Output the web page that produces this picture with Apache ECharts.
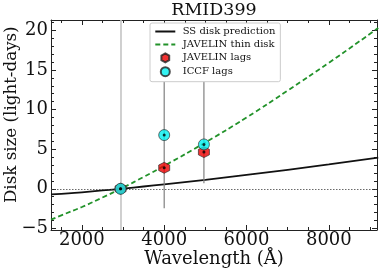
<!DOCTYPE html>
<html><head><meta charset="utf-8">
<script src="https://cdn.jsdelivr.net/npm/echarts@6/dist/echarts.min.js"></script>
<style>html,body{margin:0;padding:0;background:#fff}#c{width:381px;height:273px}</style>
</head><body><div id="c"></div>
<script>
// ---- data ----
var wave = [1250, 1500, 2000, 2500, 3000, 3500, 4000, 5000, 6000, 7000, 8000, 9200];
var ssDisk = [-0.70, -0.65, -0.44, -0.21, 0.03, 0.29, 0.56, 1.13, 1.75, 2.40, 3.08, 3.93];
var javThin = [-3.9, -3.35, -2.3, -1.1, 0.15, 1.5, 2.9, 5.85, 9.0, 12.4, 15.9, 20.3];
var lagWave = [2940, 4000, 4965];
var javLag = [0, 2.65, 4.63];
var iccfLag = [0, 6.78, 5.6];
var errWave = [4000, 4965];
var errLo = [-2.45, 0.7];
var errHi = [15, 15];
var refWave = 2940;
var xMajor = [2000, 4000, 6000, 8000];
var xMinor = [1500, 2500, 3000, 3500, 4500, 5000, 5500, 6500, 7000, 7500, 8500, 9000];
var yMajor = [-5, 0, 5, 10, 15, 20];
var yMinor = [-4, -3, -2, -1, 1, 2, 3, 4, 6, 7, 8, 9, 11, 12, 13, 14, 16, 17, 18, 19, 21];
var xMin = 1250, xMax = 9170, yMin = -5.2, yMax = 21.3;

var FONT = 'DejaVu Serif';
function zip(a, b) { return a.map(function (v, i) { return [v, b[i]]; }); }
function fmt(v) { return v < 0 ? '\u2212' + Math.abs(v) : String(v); }

function xa(pos, vals, len, lab) {
  return {
    type: 'value', min: xMin, max: xMax, position: pos,
    axisLine: { show: len > 4, onZero: false, lineStyle: { color: '#222', width: 1 } },
    axisTick: { show: true, inside: true, length: len, customValues: vals, lineStyle: { color: '#222', width: 1 } },
    axisLabel: lab ? { customValues: vals, fontFamily: FONT, fontSize: 18, color: '#111', margin: 1.5, formatter: function (v) { return String(v); } } : { show: false },
    splitLine: { show: false }
  };
}
function ya(pos, vals, len, lab) {
  return {
    type: 'value', min: yMin, max: yMax, position: pos,
    axisLine: { show: len > 4, onZero: false, lineStyle: { color: '#222', width: 1 } },
    axisTick: { show: true, inside: true, length: len, customValues: vals, lineStyle: { color: '#222', width: 1 } },
    axisLabel: lab ? { customValues: vals, fontFamily: FONT, fontSize: 18, color: '#111', margin: 3, formatter: fmt } : { show: false },
    splitLine: { show: false }
  };
}

var hexPath = 'path://M0,-1L0.866,-0.5L0.866,0.5L0,1L-0.866,0.5L-0.866,-0.5Z';

var series = [
  {
    name: 'SS disk prediction', type: 'line', data: zip(wave, ssDisk), smooth: true,
    symbol: 'none', lineStyle: { color: '#111', width: 1.8 }, itemStyle: { color: '#111' }, z: 3,
    markLine: {
      silent: true, symbol: 'none', label: { show: false },
      data: [
        { xAxis: refWave, lineStyle: { color: '#c4c4c4', width: 1.6, type: 'solid' } },
        { yAxis: 0, lineStyle: { color: '#444', width: 0.8, type: [1.5, 1.5] } }
      ]
    }
  },
  {
    name: 'JAVELIN thin disk', type: 'line', data: zip(wave, javThin), smooth: true,
    symbol: 'none', lineStyle: { color: '#22922a', width: 1.8, type: [5, 3] }, itemStyle: { color: '#22922a' }, z: 4
  }
];
errWave.forEach(function (w, i) {
  series.push({
    type: 'line', data: [[w, errLo[i]], [w, errHi[i]]], symbol: 'none', silent: true,
    lineStyle: { color: '#808080', width: 1.2 }, z: 5
  });
});
series.push({
  name: 'JAVELIN lags', type: 'scatter', data: zip(lagWave, javLag), symbol: hexPath, symbolSize: 11,
  itemStyle: { color: '#ee0000', borderColor: '#222', borderWidth: 0.8 }, z: 6
});
series.push({
  name: 'ICCF lags', type: 'scatter', data: zip(lagWave, iccfLag), symbol: 'circle', symbolSize: 11,
  itemStyle: { color: '#00f0f0', borderColor: '#222', borderWidth: 0.8 }, z: 7
});
series.push({
  type: 'scatter', data: zip(lagWave, javLag).concat(zip(lagWave, iccfLag)), symbol: 'circle', symbolSize: 3,
  itemStyle: { color: '#000' }, silent: true, z: 8
});

var chart = echarts.init(document.getElementById('c'), null, { renderer: 'canvas' });
chart.setOption({
  animation: false,
  backgroundColor: '#fff',
  grid: { left: 51, top: 20, width: 326, height: 210, containLabel: false },
  xAxis: [xa('bottom', xMajor, 5, true), xa('bottom', xMinor, 3, false), xa('top', xMajor, 5, false), xa('top', xMinor, 3, false)],
  yAxis: [ya('left', yMajor, 5, true), ya('left', yMinor, 3, false), ya('right', yMajor, 5, false), ya('right', yMinor, 3, false)],
  legend: {
    z: 50, orient: 'vertical', left: 150, top: 23, padding: [3.5, 5, 4.5, 4.3], itemGap: 2.9,
    itemWidth: 20, itemHeight: 9, backgroundColor: '#fff', borderColor: '#cccccc', borderWidth: 1, borderRadius: 2,
    textStyle: { fontFamily: FONT, fontSize: 10, color: '#111', padding: [0, 0, 0, 2.4] },
    data: [
      { name: 'SS disk prediction', itemStyle: { opacity: 0 } },
      { name: 'JAVELIN thin disk', itemStyle: { opacity: 0 } },
      { name: 'JAVELIN lags', icon: hexPath },
      { name: 'ICCF lags', icon: 'circle' }]
  },
  graphic: [
    { type: 'text', style: { text: 'RMID399', x: 214, y: 10.3, fill: '#111', font: '17.5px "DejaVu Serif"', textAlign: 'center', textVerticalAlign: 'middle' } },
    { type: 'text', style: { text: 'Wavelength (\u00c5)', x: 214, y: 259.5, fill: '#111', font: '18px "DejaVu Serif"', textAlign: 'center', textVerticalAlign: 'middle' } },
    { type: 'text', x: 11.5, y: 114.7, rotation: Math.PI / 2, style: { text: 'Disk size (light-days)', x: 0, y: 0, fill: '#111', font: '16.7px "DejaVu Serif"', textAlign: 'center', textVerticalAlign: 'middle' } }
  ],
  series: series
});
</script></body></html>
